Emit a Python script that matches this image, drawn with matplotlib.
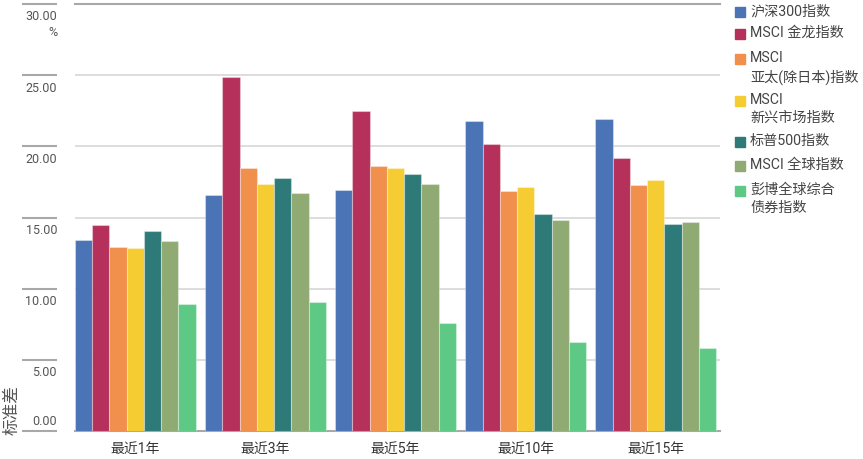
import numpy as np
import matplotlib.pyplot as plt
from matplotlib.patches import Rectangle

plt.rcParams['font.family'] = ['Roboto', 'Noto Sans CJK SC', 'DejaVu Sans']

# 数据
periods = ['最近1年', '最近3年', '最近5年', '最近10年', '最近15年']
series_names = ['沪深300指数', 'MSCI 金龙指数', 'MSCI\n亚太(除日本)指数', 'MSCI\n新兴市场指数',
                '标普500指数', 'MSCI 全球指数', '彭博全球综合\n债券指数']
hs300 = [13.45, 16.6, 16.95, 21.8, 21.9]
msci_china = [14.45, 24.9, 22.5, 20.15, 19.2]
msci_apxj = [12.9, 18.5, 18.65, 16.85, 17.25]
msci_em = [12.85, 17.35, 18.45, 17.15, 17.6]
sp500 = [14.05, 17.8, 18.05, 15.25, 14.55]
msci_world = [13.35, 16.75, 17.35, 14.8, 14.7]
barclays_agg = [8.9, 9.05, 7.6, 6.25, 5.85]
all_series = [hs300, msci_china, msci_apxj, msci_em, sp500, msci_world, barclays_agg]
colors = ['#4b74b6', '#b5305a', '#f18f4c', '#f5cd33', '#2e7a78', '#8fab73', '#5dc985']
yticks = [0, 5, 10, 15, 20, 25, 30]

fig = plt.figure(figsize=(8.63, 4.60), dpi=100)
ax = fig.add_axes([75/863, 28/460, 645/863, 427/460])

x = np.arange(len(periods))
w = 0.1325
for i, vals in enumerate(all_series):
    ax.bar(x + (i - 3) * w, vals, w, color=colors[i], edgecolor=(1, 1, 1, 0.35),
           linewidth=0.8, zorder=3)

ax.set_ylim(0, 30)
ax.set_xlim(-3.5 * w, 4 + 3.5 * w + 0.03)
ax.set_yticks(yticks)
ax.yaxis.grid(True, color='#dadada', linewidth=1.3, zorder=0)
ax.tick_params(axis='y', length=0, labelleft=False)
ax.tick_params(axis='x', length=0, pad=7, labelsize=10, labelcolor='#333333')
ax.set_xticks(x)
ax.set_xticklabels(periods)
for s in ['left', 'right']:
    ax.spines[s].set_visible(False)
ax.spines['top'].set_color('#a8a8a8')
ax.spines['top'].set_linewidth(1.5)
ax.spines['bottom'].set_color('#a8a8a8')
ax.spines['bottom'].set_linewidth(1.5)

# y轴刻度标签和短线
ytr = ax.get_yaxis_transform()
ax.hlines(yticks, -53/645, -18/645, transform=ytr, color='#a8a8a8', linewidth=1.5, clip_on=False)
for v in yticks:
    dy = 10 if v == 0 else -12
    ax.annotate('%.2f' % v, xy=(0, v), xycoords=ytr, xytext=(-18, dy),
                textcoords='offset pixels', ha='right', va='center',
                fontsize=9, color='#555555')
ax.annotate('%', xy=(0, 30), xycoords=ytr, xytext=(-18, -28),
            textcoords='offset pixels', ha='right', va='center', fontsize=9, color='#555555')
fig.text(12/863, 1 - 410/460, '标准差', rotation=90, ha='center', va='center',
         fontsize=12, color='#555555')

# 图例
legend_y = [13, 35, 60, 102, 143, 167, 192]
for name, c, ly in zip(series_names, colors, legend_y):
    fig.patches.append(Rectangle((735/863, 1 - (ly + 5)/460), 10/863, 10/460,
                                 transform=fig.transFigure, color=c))
    fig.text(750/863, 1 - (ly - 9)/460, name, ha='left', va='top', fontsize=10.2,
             color='#444444', linespacing=1.38)

fig.savefig('out.png', dpi=100)
